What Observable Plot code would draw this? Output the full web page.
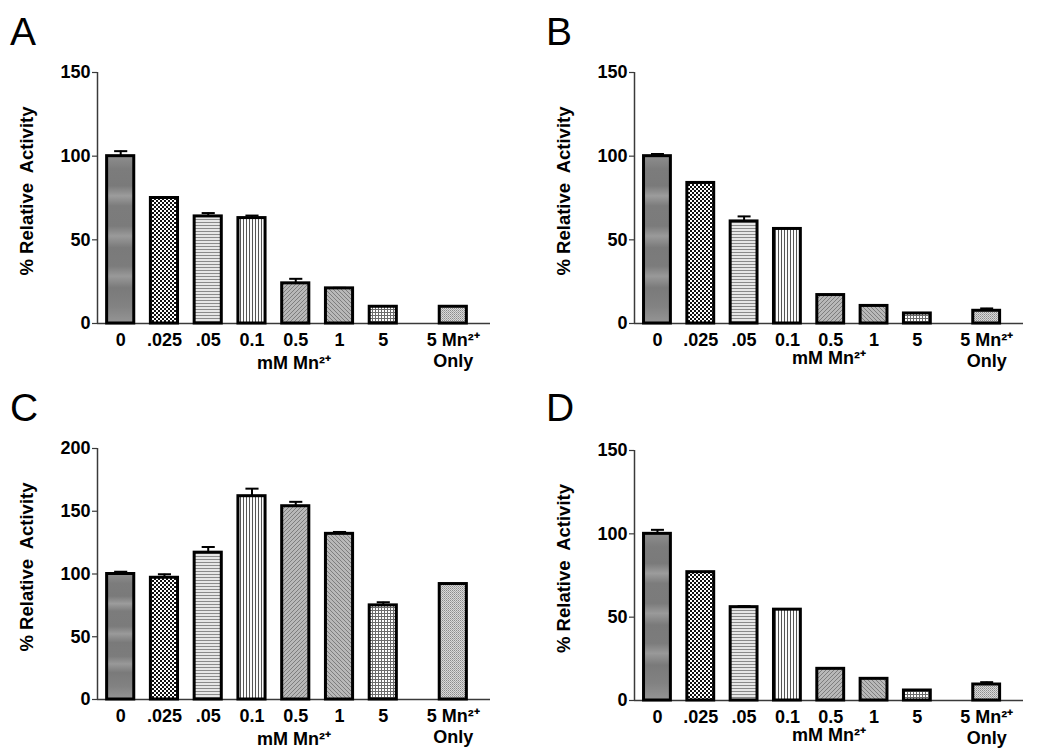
<!DOCTYPE html>
<html>
<head>
<meta charset="utf-8">
<script src="https://cdn.jsdelivr.net/npm/d3@7"></script>
<script src="https://cdn.jsdelivr.net/npm/@observablehq/plot@0.6"></script>
<style>
  body { margin: 0; background: #fff; font-family: "Liberation Sans", Arial, sans-serif; }
  #fig { position: relative; width: 1050px; height: 753px; overflow: hidden; background: #fff; }
  .panel { position: absolute; }
  .panel svg text { white-space: pre; }
  .letter { position: absolute; font-size: 39px; line-height: 1; font-weight: normal; color: #000; font-family: "Liberation Sans", Arial, sans-serif; }
</style>
</head>
<body>
<svg width="0" height="0" style="position:absolute">
  <defs>
    <linearGradient id="p0" x1="0" y1="0" x2="0" y2="1">
      <stop offset="0" stop-color="#8e8e8e"/>
      <stop offset="0.08" stop-color="#7c7c7c"/>
      <stop offset="0.18" stop-color="#7a7a7a"/>
      <stop offset="0.24" stop-color="#9c9c9c"/>
      <stop offset="0.30" stop-color="#7c7c7c"/>
      <stop offset="0.42" stop-color="#7b7b7b"/>
      <stop offset="0.48" stop-color="#9a9a9a"/>
      <stop offset="0.55" stop-color="#7a7a7a"/>
      <stop offset="0.66" stop-color="#7c7c7c"/>
      <stop offset="0.72" stop-color="#999999"/>
      <stop offset="0.79" stop-color="#7a7a7a"/>
      <stop offset="0.90" stop-color="#828282"/>
      <stop offset="1" stop-color="#959595"/>
    </linearGradient>
    <pattern id="p1" width="4" height="4" patternUnits="userSpaceOnUse">
      <rect width="4" height="4" fill="#fff"/>
      <rect x="0" y="0" width="2" height="2" fill="#111"/>
      <rect x="2" y="2" width="2" height="2" fill="#111"/>
    </pattern>
    <pattern id="p2" width="4" height="3" patternUnits="userSpaceOnUse">
      <rect width="4" height="3" fill="#e6e6e6"/>
      <rect x="0" y="0" width="4" height="1" fill="#8a8a8a"/>
    </pattern>
    <pattern id="p3" width="3" height="4" patternUnits="userSpaceOnUse">
      <rect width="3" height="4" fill="#fbfbfb"/>
      <rect x="0" y="0" width="1" height="4" fill="#555"/>
    </pattern>
    <pattern id="p4" width="4" height="4" patternUnits="userSpaceOnUse">
      <rect width="4" height="4" fill="#b8b8b8"/>
      <path d="M-1,1 L1,-1 M0,4 L4,0 M3,5 L5,3" stroke="#7e7e7e" stroke-width="1"/>
    </pattern>
    <pattern id="p5" width="4" height="4" patternUnits="userSpaceOnUse">
      <rect width="4" height="4" fill="#b8b8b8"/>
      <path d="M-1,3 L1,5 M0,0 L4,4 M3,-1 L5,1" stroke="#7e7e7e" stroke-width="1"/>
    </pattern>
    <pattern id="p6" width="3" height="3" patternUnits="userSpaceOnUse">
      <rect width="3" height="3" fill="#fdfdfd"/>
      <rect x="0" y="0" width="3" height="1" fill="#6a6a6a"/>
      <rect x="0" y="0" width="1" height="3" fill="#6a6a6a"/>
    </pattern>
    <pattern id="p7" width="2" height="2" patternUnits="userSpaceOnUse">
      <rect width="2" height="2" fill="#dadada"/>
      <rect x="0" y="0" width="1" height="1" fill="#8c8c8c"/>
      <rect x="1" y="1" width="1" height="1" fill="#a8a8a8"/>
    </pattern>
  </defs>
</svg>
<div id="fig"></div>
<script>
// ---- data ----
const categories = ["0", ".025", ".05", "0.1", "0.5", "1", "5", "5 Mn²⁺\nOnly"];
const panelLetters = ["A", "B", "C", "D"];

const valuesA = [100, 75, 64, 63, 24, 21, 10, 10];
const errorsA = [3, 0.5, 2, 1.5, 2.7, 0.3, 0, 0];

const valuesB = [100, 84, 61, 56.5, 17, 10.5, 6, 7.6];
const errorsB = [1.3, 0.3, 3, 0, 0, 0, 0, 1.4];

const valuesC = [100, 97, 117, 162, 154, 132, 75, 92];
const errorsC = [1.8, 2.8, 4.5, 6, 3.5, 1.5, 2.5, 0];

const valuesD = [100, 77, 56, 54.5, 19, 13, 6, 9.6];
const errorsD = [2.4, 0, 0.6, 0.4, 0.3, 0.5, 0, 1.4];

const yTicks150 = [0, 50, 100, 150];
const yTicks200 = [0, 50, 100, 150, 200];

const xTitle = "mM Mn²⁺";
const yTitle = "% Relative  Activity";

// ---- styles / layout ----
const barFills = ["url(#p0)", "url(#p1)", "url(#p2)", "url(#p3)", "url(#p4)", "url(#p5)", "url(#p6)", "url(#p7)"];
const FONT = "'Liberation Sans', Arial, Helvetica, sans-serif";

const panels = [
  {letter: panelLetters[0], values: valuesA, errors: errorsA, yMax: 150, yTicks: yTicks150,
   left: 0, top: 0, width: 520, height: 376, mt: 72, mb: 53, ml: 97, mr: 30, xTitleDy: 39.5},
  {letter: panelLetters[1], values: valuesB, errors: errorsB, yMax: 150, yTicks: yTicks150,
   left: 520, top: 0, width: 530, height: 376, mt: 72, mb: 53, ml: 114, mr: 27, xTitleDy: 34.5},
  {letter: panelLetters[2], values: valuesC, errors: errorsC, yMax: 200, yTicks: yTicks200,
   left: 0, top: 376, width: 520, height: 377, mt: 72, mb: 54, ml: 97, mr: 30, xTitleDy: 39.5},
  {letter: panelLetters[3], values: valuesD, errors: errorsD, yMax: 150, yTicks: yTicks150,
   left: 520, top: 376, width: 530, height: 377, mt: 74, mb: 53, ml: 114, mr: 27, xTitleDy: 35}
];

const xMin = -0.53, xMax = 8.45;
const slotOf = i => (i < 7 ? i : 7.6);   // control bar set apart from the series
const halfBar = 0.31, halfCap = 0.15;

const fig = document.getElementById("fig");

panels.forEach(p => {
  const data = categories.map((c, i) => ({
    cat: c, pos: slotOf(i), v: p.values[i], e: p.errors[i], fill: barFills[i]
  }));
  const labelByPos = new Map(data.map(d => [d.pos, d.cat]));

  const chart = Plot.plot({
    width: p.width,
    height: p.height,
    marginTop: p.mt,
    marginBottom: p.mb,
    marginLeft: p.ml,
    marginRight: p.mr,
    x: {domain: [xMin, xMax], axis: null},
    y: {domain: [0, p.yMax], axis: null},
    color: {type: "identity"},
    style: {fontFamily: FONT, fontWeight: "bold", fontSize: "18px", color: "#000", background: "#fff", overflow: "visible"},
    marks: [
      Plot.ruleY([0], {stroke: "#3a3a3a", strokeWidth: 1.5}),
      Plot.ruleX([xMin], {y1: 0, y2: p.yMax, stroke: "#3a3a3a", strokeWidth: 1.5}),
      Plot.ruleX(data, {x: "pos", y1: "v", y2: d => d.v + d.e, stroke: "#000", strokeWidth: 2}),
      Plot.link(data, {x1: d => d.pos - halfCap, x2: d => d.pos + halfCap,
                       y1: d => d.v + d.e, y2: d => d.v + d.e, stroke: "#000", strokeWidth: 2}),
      Plot.rectY(data, {x1: d => d.pos - halfBar, x2: d => d.pos + halfBar, y1: 0, y2: "v",
                        fill: "fill", stroke: "#000", strokeWidth: 3}),
      Plot.axisY({ticks: p.yTicks, tickSize: 5, tickPadding: 2, label: null,
                  fontSize: 18, fontWeight: "bold", stroke: "#3a3a3a", strokeWidth: 1.2}),
      Plot.axisX({ticks: data.map(d => d.pos), tickFormat: d => labelByPos.get(d),
                  tickSize: 0, tickPadding: 7, label: null, lineHeight: 1.2,
                  fontSize: 18, fontWeight: "bold"}),
      Plot.text([xTitle], {frameAnchor: "bottom", dy: p.xTitleDy, lineAnchor: "middle",
                           fontSize: 18, fontWeight: "bold", fill: "#000"}),
      Plot.text([yTitle], {frameAnchor: "left", textAnchor: "middle", rotate: -90, dx: -70.5, dy: -7,
                           lineAnchor: "middle", fontSize: 18.5, fontWeight: "bold", fill: "#000"})
    ]
  });

  const div = document.createElement("div");
  div.className = "panel";
  div.style.left = p.left + "px";
  div.style.top = p.top + "px";
  div.style.width = p.width + "px";
  div.style.height = p.height + "px";
  div.appendChild(chart);

  const letter = document.createElement("div");
  letter.className = "letter";
  letter.textContent = p.letter;
  letter.style.left = (p.left === 0 ? 10 : 26) + "px";
  letter.style.top = "12px";
  div.appendChild(letter);

  fig.appendChild(div);
});
</script>
</body>
</html>
